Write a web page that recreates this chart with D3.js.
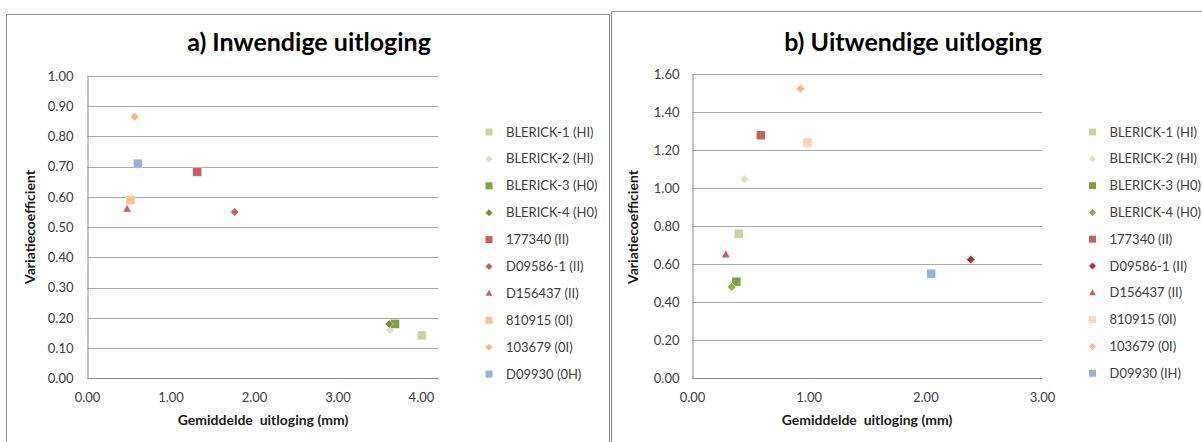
<!DOCTYPE html>
<html>
<head>
<meta charset="utf-8">
<script src="https://cdn.jsdelivr.net/npm/d3@7"></script>
<style>
  html, body { margin: 0; padding: 0; background: #fff; }
  svg { display: block; }
  text { font-family: Lato, "Open Sans", sans-serif; }
</style>
</head>
<body>
<svg id="chart" width="1202" height="442"></svg>
<script>
// Series labels
const seriesA = ["BLERICK-1 (HI)", "BLERICK-2 (HI)", "BLERICK-3 (H0)", "BLERICK-4 (H0)",
  "177340 (II)", "D09586-1 (II)", "D156437 (II)", "810915 (0I)", "103679 (0I)", "D09930 (0H)"];
const seriesB = ["BLERICK-1 (HI)", "BLERICK-2 (HI)", "BLERICK-3 (H0)", "BLERICK-4 (H0)",
  "177340 (II)", "D09586-1 (II)", "D156437 (II)", "810915 (0I)", "103679 (0I)", "D09930 (IH)"];

// a) Inwendige uitloging: mean (mm) and coefficient of variation
const innerMean = [4.01, 3.63, 3.69, 3.62, 1.32, 1.77, 0.48, 0.52, 0.57, 0.61];
const innerCV   = [0.142, 0.16, 0.18, 0.18, 0.683, 0.55, 0.56, 0.59, 0.865, 0.71];

// b) Uitwendige uitloging
const outerMean = [0.40, 0.45, 0.38, 0.34, 0.59, 2.39, 0.29, 0.99, 0.93, 2.05];
const outerCV   = [0.76, 1.046, 0.508, 0.48, 1.278, 0.624, 0.65, 1.24, 1.523, 0.55];

// Axis ticks
const xTicksA = [0, 1, 2, 3, 4];
const yTicksA = [0, 0.1, 0.2, 0.3, 0.4, 0.5, 0.6, 0.7, 0.8, 0.9, 1.0];
const xTicksB = [0, 1, 2, 3];
const yTicksB = [0, 0.2, 0.4, 0.6, 0.8, 1.0, 1.2, 1.4, 1.6];

// Marker styling per series
const shapes = ["square", "diamond", "square", "diamond", "square", "diamond", "triangle", "square", "diamond", "square"];
const colorsA = ["#c4d79b", "#d6e3bc", "#7f9f49", "#77933c", "#c9605e", "#c9605e", "#c9605e", "#fac090", "#fab47c", "#95b3d7"];
const colorsB = ["#c4d79b", "#d6e3bc", "#7f9f49", "#8cb24e", "#c9605e", "#a83636", "#c9605e", "#fcd5b5", "#fab47c", "#95b3d7"];

const svg = d3.select("#chart");
svg.append("rect").attr("width", 1202).attr("height", 442).attr("fill", "#fff");

function marker(g, shape, size, color) {
  let p;
  if (shape === "square") {
    p = g.append("rect").attr("x", -size / 2).attr("y", -size / 2).attr("width", size).attr("height", size);
  } else if (shape === "diamond") {
    const r = size * 0.5;
    p = g.append("path").attr("d", `M0,${-r}L${r},0L0,${r}L${-r},0Z`);
  } else {
    const h = size * 0.85, w = size * 0.95;
    p = g.append("path").attr("d", `M0,${-h * 0.6}L${w / 2},${h * 0.4}L${-w / 2},${h * 0.4}Z`);
  }
  p.attr("fill", color);
  return p;
}

function panel(cfg) {
  const g = svg.append("g");
  // chart frame
  g.append("path")
    .attr("d", `M${cfg.frame[0]},${cfg.frame[3]}V${cfg.frame[1]}H${cfg.frame[2]}` + (cfg.frameRight ? `V${cfg.frame[3]}` : ""))
    .attr("fill", "none").attr("stroke", "#8c8c8c").attr("stroke-width", 1);

  const x = d3.scaleLinear().domain(cfg.xDomain).range([cfg.plot.left, cfg.plot.right]);
  const y = d3.scaleLinear().domain(cfg.yDomain).range([cfg.plot.bottom, cfg.plot.top]);

  // horizontal gridlines
  g.append("g").selectAll("line").data(cfg.yTicks.filter(d => d > 0)).join("line")
    .attr("x1", cfg.plot.left).attr("x2", cfg.plot.right)
    .attr("y1", d => Math.round(y(d)) + 0.5).attr("y2", d => Math.round(y(d)) + 0.5)
    .attr("stroke", "#a9a9a9").attr("stroke-width", 1);

  // axes
  const xAxis = g.append("g").attr("transform", `translate(0,${Math.round(y(0)) + 0.5})`)
    .call(d3.axisBottom(x).tickValues(cfg.xTicks).tickFormat(d3.format(".2f")).tickSize(0).tickPadding(14));
  xAxis.select(".domain").attr("stroke", "#8c8c8c").attr("d", `M${cfg.plot.left},0H${cfg.plot.right}`);
  xAxis.selectAll("text").attr("font-size", 13).attr("fill", "#404040").attr("font-family", "Lato, sans-serif");

  const yAxis = g.append("g").attr("transform", `translate(${Math.round(cfg.plot.left) + 0.5},0)`)
    .call(d3.axisLeft(y).tickValues(cfg.yTicks).tickFormat(d3.format(".2f")).tickSize(0).tickPadding(cfg.yPad));
  yAxis.select(".domain").attr("stroke", "#8c8c8c");
  yAxis.selectAll("text").attr("font-size", 13).attr("fill", "#404040").attr("font-family", "Lato, sans-serif");

  // titles
  g.append("text").attr("x", cfg.titleX).attr("y", 51).attr("text-anchor", "middle")
    .attr("font-size", 25).attr("font-weight", 700).attr("fill", "#000").text(cfg.title);
  g.append("text").attr("x", cfg.xTitleX).attr("y", 425).attr("text-anchor", "middle")
    .attr("font-size", 14).attr("font-weight", 700).attr("fill", "#1a1a1a")
    .style("white-space", "pre").text("Gemiddelde  uitloging (mm)");
  g.append("text").attr("transform", `translate(${cfg.yTitleX},227) rotate(-90)`).attr("text-anchor", "middle")
    .attr("font-size", 14).attr("font-weight", 700).attr("fill", "#1a1a1a").text("Variatiecoefficient");

  // data points
  const pts = g.append("g");
  cfg.names.forEach((name, i) => {
    const size = shapes[i] === "square" ? 9 : (shapes[i] === "diamond" ? 8.5 : 9);
    const m = pts.append("g").attr("transform", `translate(${x(cfg.xs[i])},${y(cfg.ys[i])})`);
    marker(m, shapes[i], size, cfg.colors[i]).attr("stroke", "#ffffff").attr("stroke-opacity", 0.55).attr("stroke-width", 0.8);
  });

  // legend
  const lg = g.append("g");
  cfg.names.forEach((name, i) => {
    const ly = cfg.legendY0 + i * cfg.legendStep;
    const m = lg.append("g").attr("transform", `translate(${cfg.legendX},${ly})`);
    marker(m, shapes[i], 7, cfg.colors[i]);
    lg.append("text").attr("x", cfg.legendX + 17).attr("y", ly).attr("dy", "0.35em")
      .attr("font-size", 13).attr("fill", "#404040").text(name);
  });
}

panel({
  frame: [6.5, 14.5, 609.5, 460], frameRight: true,
  plot: { left: 87, right: 438.5, top: 76, bottom: 378.3 },
  xDomain: [0, 4.21], yDomain: [0, 1.0],
  xTicks: xTicksA, yTicks: yTicksA, yPad: 14,
  xs: innerMean, ys: innerCV, names: seriesA, colors: colorsA,
  title: "a) Inwendige uitloging", titleX: 309, xTitleX: 263, yTitleX: 35,
  legendX: 489, legendY0: 132, legendStep: 26.9
});

panel({
  frame: [611.5, 11.5, 1210, 460], frameRight: false,
  plot: { left: 692, right: 1042, top: 74, bottom: 378.3 },
  xDomain: [0, 3], yDomain: [0, 1.6],
  xTicks: xTicksB, yTicks: yTicksB, yPad: 13,
  xs: outerMean, ys: outerCV, names: seriesB, colors: colorsB,
  title: "b) Uitwendige uitloging", titleX: 913, xTitleX: 867, yTitleX: 638,
  legendX: 1092.5, legendY0: 132, legendStep: 26.8
});
</script>
</body>
</html>
